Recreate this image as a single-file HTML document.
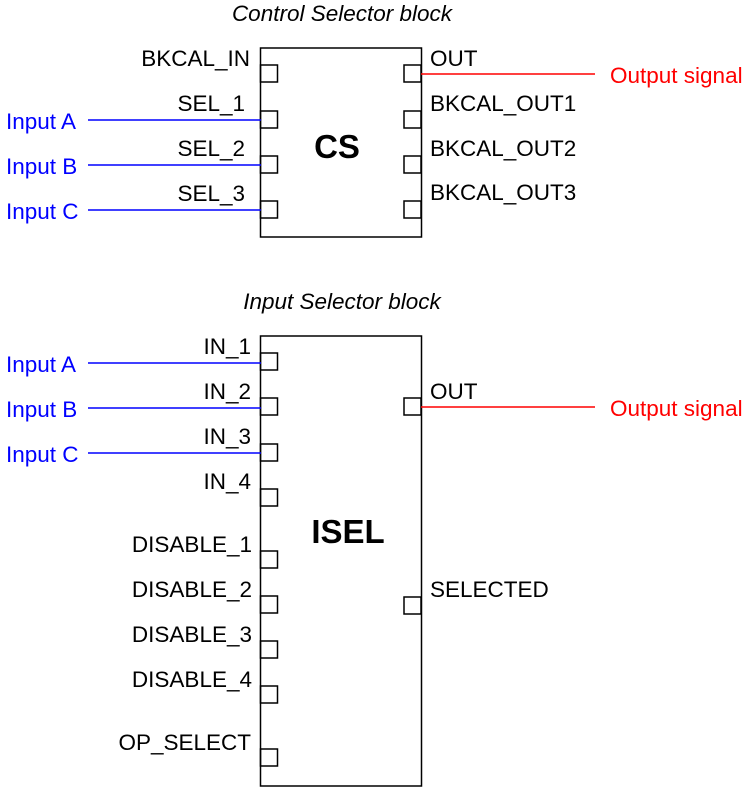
<!DOCTYPE html>
<html><head><style>body{margin:0;background:#fff}svg{display:block}</style></head><body>
<svg width="748" height="794" xmlns="http://www.w3.org/2000/svg" font-family="Liberation Sans, sans-serif" font-size="22.5">
<g fill="none" stroke="#000" stroke-width="1.5">
<rect x="260.5" y="48" width="161" height="189"/>
<rect x="260.5" y="65" width="17" height="17"/>
<rect x="260.5" y="111" width="17" height="17"/>
<rect x="260.5" y="156" width="17" height="17"/>
<rect x="260.5" y="201" width="17" height="17"/>
<rect x="404" y="65" width="17" height="17"/>
<rect x="404" y="111" width="17" height="17"/>
<rect x="404" y="156" width="17" height="17"/>
<rect x="404" y="201" width="17" height="17"/>
<rect x="260.5" y="336" width="161" height="450"/>
<rect x="260.5" y="353" width="17" height="17"/>
<rect x="260.5" y="398" width="17" height="17"/>
<rect x="260.5" y="444" width="17" height="17"/>
<rect x="260.5" y="489" width="17" height="17"/>
<rect x="260.5" y="551" width="17" height="17"/>
<rect x="260.5" y="596" width="17" height="17"/>
<rect x="260.5" y="641" width="17" height="17"/>
<rect x="260.5" y="686" width="17" height="17"/>
<rect x="260.5" y="749" width="17" height="17"/>
<rect x="404" y="398" width="17" height="17"/>
<rect x="404" y="597" width="17" height="17"/>
</g>
<g stroke="#0000ff" stroke-width="1.5">
<line x1="88" y1="120" x2="261" y2="120"/><line x1="88" y1="165" x2="261" y2="165"/><line x1="88" y1="210" x2="261" y2="210"/>
<line x1="88" y1="363" x2="261" y2="363"/><line x1="88" y1="408" x2="261" y2="408"/><line x1="88" y1="453" x2="261" y2="453"/>
</g>
<g stroke="#ff0000" stroke-width="1.5">
<line x1="421" y1="74" x2="595" y2="74"/><line x1="421" y1="407" x2="595" y2="407"/>
</g>
<g font-style="italic" text-anchor="middle"><text x="342" y="21">Control Selector block</text><text x="342" y="309">Input Selector block</text></g>
<g font-weight="bold" font-size="33" text-anchor="middle"><text x="337" y="158">CS</text><text x="348" y="543">ISEL</text></g>
<g text-anchor="end">
<text x="250" y="66">BKCAL_IN</text><text x="245" y="111">SEL_1</text><text x="245" y="156">SEL_2</text><text x="245" y="201">SEL_3</text>
<text x="251" y="354">IN_1</text><text x="251" y="399">IN_2</text><text x="251" y="444">IN_3</text><text x="251" y="489">IN_4</text>
<text x="252" y="552">DISABLE_1</text><text x="252" y="597">DISABLE_2</text><text x="252" y="642">DISABLE_3</text><text x="252" y="687">DISABLE_4</text><text x="251" y="750">OP_SELECT</text>
</g>
<text x="430" y="66">OUT</text><text x="430" y="111">BKCAL_OUT1</text><text x="430" y="156">BKCAL_OUT2</text><text x="430" y="200">BKCAL_OUT3</text>
<text x="430" y="399">OUT</text><text x="430" y="597">SELECTED</text>
<g fill="#0000ff"><text x="6" y="129">Input A</text><text x="6" y="174">Input B</text><text x="6" y="219">Input C</text>
<text x="6" y="372">Input A</text><text x="6" y="417">Input B</text><text x="6" y="462">Input C</text></g>
<g fill="#ff0000"><text x="610" y="83">Output signal</text><text x="610" y="416">Output signal</text></g>
</svg>
</body></html>
